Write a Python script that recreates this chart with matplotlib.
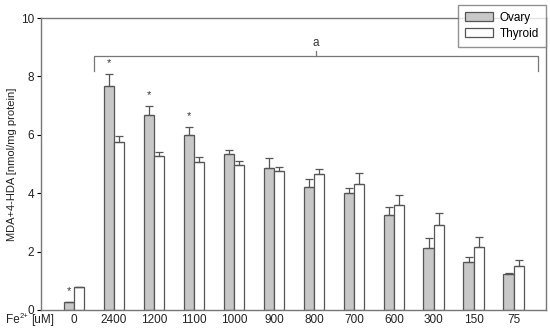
import numpy as np
import matplotlib
matplotlib.use("Agg")
import matplotlib.pyplot as plt
from matplotlib.patches import Patch

plt.rcParams['font.family'] = ['Liberation Sans', 'DejaVu Sans']

# data
doses = ["0", "2400", "1200", "1100", "1000", "900", "800", "700", "600", "300", "150", "75"]
ovary = [0.27, 7.68, 6.69, 5.99, 5.34, 4.85, 4.20, 4.00, 3.26, 2.13, 1.63, 1.22]
ovary_err = [0.0, 0.41, 0.31, 0.28, 0.14, 0.35, 0.29, 0.19, 0.27, 0.32, 0.17, 0.04]
thyroid = [0.78, 5.76, 5.27, 5.08, 4.97, 4.75, 4.65, 4.32, 3.61, 2.91, 2.16, 1.50]
thyroid_err = [0.0, 0.19, 0.14, 0.15, 0.12, 0.16, 0.18, 0.38, 0.32, 0.42, 0.34, 0.20]
star_groups = [0, 1, 2, 3]

edge = "#555555"
x = np.arange(len(doses))
w = 0.26

fig = plt.figure(figsize=(5.5, 3.28), dpi=100)
ax = fig.add_axes([0.0745, 0.055, 0.918, 0.89])

ax.bar(x - w / 2, ovary, w, color="#c8c8c8", edgecolor=edge, linewidth=0.9,
       yerr=[np.zeros(len(x)), ovary_err], ecolor=edge,
       error_kw=dict(elinewidth=0.9, capsize=3, capthick=0.9))
ax.bar(x + w / 2, thyroid, w, color="white", edgecolor=edge, linewidth=0.9,
       yerr=[np.zeros(len(x)), thyroid_err], ecolor=edge,
       error_kw=dict(elinewidth=0.9, capsize=3, capthick=0.9))

# asterisks above ovary bars
for i in star_groups:
    ax.text(x[i] - w / 2, ovary[i] + ovary_err[i] + 0.2, "*", ha="center",
            va="bottom", fontsize=8, color="#333333")

# bracket "a" over the Fe-treated groups
by = 8.71
ax.plot([x[1] - 0.5, x[1] - 0.5, x[-1] + 0.6, x[-1] + 0.6],
        [8.18, by, by, 8.18], color="#777777", lw=0.9)
mid = (x[1] - 0.5 + x[-1] + 0.6) / 2
ax.plot([mid, mid], [by, by + 0.15], color="#777777", lw=0.9)
ax.text(mid, by + 0.22, "a", ha="center", va="bottom", fontsize=8.5, color="#333333")

ax.set_xlim(-0.825, 11.8)
ax.set_ylim(0, 10)
ax.set_yticks([0, 2, 4, 6, 8, 10])
ax.set_xticks(x)
ax.set_xticklabels(doses)
ax.tick_params(axis="x", length=0, pad=3, labelsize=8.5)
ax.tick_params(axis="y", length=3, direction="out", labelsize=8.5, pad=2)
for tl in ax.get_xticklabels() + ax.get_yticklabels():
    tl.set_color("#222222")
for s in ax.spines.values():
    s.set_color("#777777")
    s.set_linewidth(1.0)

ax.set_ylabel("MDA+4-HDA [nmol/mg protein]", fontsize=8, color="#222222", labelpad=3)

# "Fe2+ [uM]" label left of the x tick labels, superscript drawn as its own text
fy = 0.023
fig.text(0.011, fy, "Fe", fontsize=8.5, color="#222222", ha="left", va="center")
fig.text(0.035, fy + 0.011, "2+", fontsize=5.5, color="#222222", ha="left", va="center")
fig.text(0.057, fy, "[uM]", fontsize=8.5, color="#222222", ha="left", va="center")

handles = [Patch(facecolor="#c8c8c8", edgecolor=edge, lw=0.9, label="Ovary"),
           Patch(facecolor="white", edgecolor=edge, lw=0.9, label="Thyroid")]
leg = fig.legend(handles=handles, loc="upper right", bbox_to_anchor=(0.9927, 0.985),
                 borderaxespad=0, fontsize=8.5, frameon=True, fancybox=False,
                 handlelength=2.3, handleheight=0.8, borderpad=0.6, labelspacing=0.3,
                 handletextpad=0.6)
leg.get_frame().set_edgecolor("#777777")
leg.get_frame().set_linewidth(1.0)

fig.savefig("out.png", dpi=100)
